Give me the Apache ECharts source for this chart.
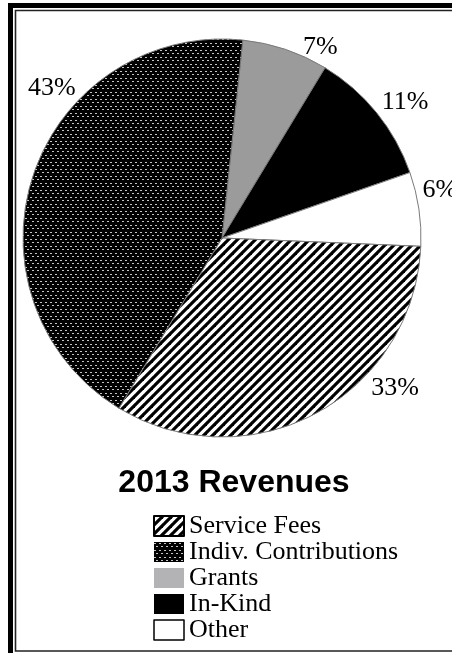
<!DOCTYPE html>
<html>
<head>
<meta charset="utf-8">
<script src="https://cdn.jsdelivr.net/npm/echarts@6/dist/echarts.min.js"></script>
<style>
  html, body { margin: 0; padding: 0; background: #fff; }
  #chart { width: 452px; height: 653px; }
</style>
</head>
<body>
<div id="chart"></div>
<script>
// ---- data ----
const categories = ['Grants', 'In-Kind', 'Other', 'Service Fees', 'Indiv. Contributions'];
const values = [7, 11, 6, 33, 43];
const legendOrder = ['Service Fees', 'Indiv. Contributions', 'Grants', 'In-Kind', 'Other'];
const titleText = '2013 Revenues';

// ---- label placement (angle in degrees, distance from centre) ----
const labelPlacement = [
  [62.8, 215],   // Grants
  [36.6, 228],   // In-Kind
  [12.4, 223],   // Other
  [-40.9, 229],  // Service Fees
  [138.6, 227]   // Indiv. Contributions
];

const CX = 222, CY = 238, R = 199;

function hatchPattern() {
  const s = 9;
  const c = document.createElement('canvas');
  c.width = s; c.height = s;
  const g = c.getContext('2d');
  g.fillStyle = '#fff';
  g.fillRect(0, 0, s, s);
  g.strokeStyle = '#000';
  g.lineWidth = 3.2;
  for (const k of [-s, 0, s]) {
    g.beginPath();
    g.moveTo(k - 2, s + 2);
    g.lineTo(k + s + 2, -2);
    g.stroke();
  }
  return { image: c, repeat: 'repeat' };
}

function dotPattern() {
  const c = document.createElement('canvas');
  c.width = 10; c.height = 7;
  const g = c.getContext('2d');
  g.fillStyle = '#000';
  g.fillRect(0, 0, 10, 7);
  g.fillStyle = '#c4c4c4';
  g.fillRect(0, 1, 2, 1);
  g.fillRect(5, 1, 2, 1);
  g.fillRect(2, 4, 2, 1);
  g.fillRect(7, 4, 2, 1);
  return { image: c, repeat: 'repeat' };
}

const fills = {
  'Grants': '#9b9b9b',
  'In-Kind': '#000000',
  'Other': '#ffffff',
  'Service Fees': hatchPattern(),
  'Indiv. Contributions': dotPattern()
};

const legendStyles = {
  'Service Fees': { borderColor: '#000', borderWidth: 2 },
  'Indiv. Contributions': { borderWidth: 0 },
  'Grants': { color: '#b3b3b5', borderWidth: 0 },
  'In-Kind': { borderWidth: 0 },
  'Other': { borderColor: '#000', borderWidth: 1.5 }
};

const chart = echarts.init(document.getElementById('chart'), null, { renderer: 'canvas' });

chart.setOption({
  animation: false,
  backgroundColor: '#fff',
  title: {
    text: titleText,
    left: 229,
    top: 462,
    textAlign: 'center',
    textStyle: {
      fontFamily: 'Liberation Sans',
      fontWeight: 'bold',
      fontSize: 32,
      color: '#000'
    }
  },
  legend: {
    orient: 'vertical',
    left: 148,
    top: 508,
    height: 140,
    itemWidth: 30,
    itemHeight: 20,
    itemGap: 0,
    icon: 'rect',
    selectedMode: false,
    textStyle: {
      fontFamily: 'Liberation Serif',
      fontSize: 26,
      color: '#000'
    },
    data: legendOrder.map(n => ({ name: n, itemStyle: legendStyles[n] }))
  },
  graphic: [
    {
      type: 'rect',
      silent: true,
      shape: { x: 10.5, y: 5.5, width: 480, height: 700 },
      style: { fill: 'none', stroke: '#000', lineWidth: 5 }
    },
    {
      type: 'rect',
      silent: true,
      shape: { x: 15.5, y: 10.5, width: 480, height: 640.5 },
      style: { fill: 'none', stroke: '#222', lineWidth: 1.6 }
    }
  ],
  series: [{
    type: 'pie',
    center: [CX, CY],
    radius: R,
    startAngle: 84,
    clockwise: true,
    avoidLabelOverlap: false,
    silent: true,
    itemStyle: { borderColor: '#7a7a7a', borderWidth: 1 },
    label: {
      show: true,
      position: 'outside',
      formatter: p => p.value + '%',
      fontFamily: 'Liberation Serif',
      fontSize: 26,
      color: '#000'
    },
    labelLine: { show: false },
    labelLayout: function (params) {
      const pl = labelPlacement[params.dataIndex];
      const a = pl[0] * Math.PI / 180;
      return {
        x: CX + pl[1] * Math.cos(a),
        y: CY - pl[1] * Math.sin(a),
        align: 'center',
        verticalAlign: 'middle'
      };
    },
    data: categories.map((n, i) => ({
      name: n,
      value: values[i],
      itemStyle: { color: fills[n] }
    }))
  }]
});
</script>
</body>
</html>
